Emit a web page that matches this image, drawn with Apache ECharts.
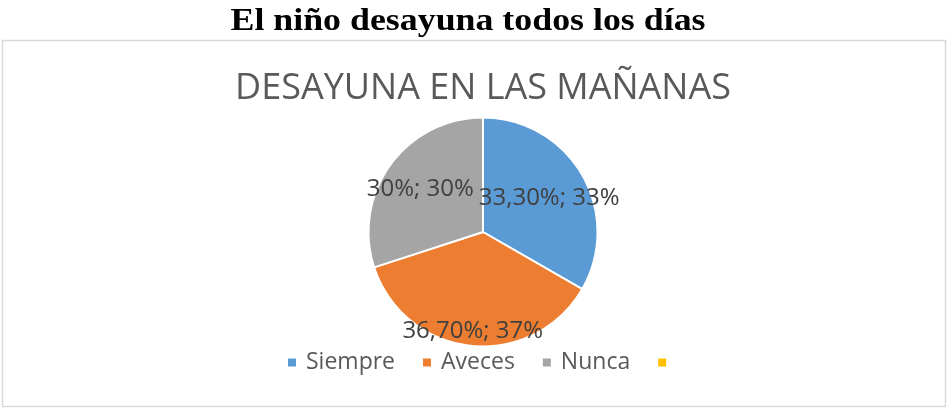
<!DOCTYPE html>
<html>
<head>
<meta charset="utf-8">
<script src="https://cdn.jsdelivr.net/npm/echarts@6/dist/echarts.min.js"></script>
<style>
  html, body { margin: 0; padding: 0; background: #fff; }
  #main { width: 951px; height: 418px; }
</style>
</head>
<body>
<div id="main"></div>
<script>
// datos
var categorias = ["Siempre", "Aveces", "Nunca", " "];
var valores = [33.3, 36.7, 30, 0];
var colores = ["#5B9BD5", "#ED7D31", "#A5A5A5", "#FFC000"];

// desplazamiento de etiquetas (como en Excel)
var desplaz = [[14, -4], [-4, 39], [-14, -7], [0, 0]];

var chart = echarts.init(document.getElementById("main"));

var datos = categorias.map(function (c, i) {
    return { name: c, value: valores[i], itemStyle: { color: colores[i] } };
});

chart.setOption({
    animation: false,
    title: {
        text: "DESAYUNA EN LAS MAÑANAS",
        left: 478,
        textAlign: "center",
        top: 66,
        textStyle: { fontFamily: "Open Sans", fontWeight: "normal", fontSize: 36, color: "#595959" }
    },
    graphic: [{
        type: "rect",
        shape: { x: 2.5, y: 40.5, width: 943, height: 366 },
        style: { fill: "none", stroke: "#d9d9d9", lineWidth: 1.5 },
        z: -1
    }, {
        type: "text",
        x: 468,
        y: 6,
        scaleX: 1.12,
        style: {
            text: "El niño desayuna todos los días",
            x: 0, y: 0,
            align: "center",
            verticalAlign: "top",
            fontFamily: "Liberation Serif",
            fontWeight: "bold",
            fontSize: 32,
            fill: "#000"
        }
    }],
    legend: {
        top: 351,
        left: 286,
        padding: 0,
        data: categorias,
        icon: "rect",
        itemWidth: 10,
        itemHeight: 10,
        itemGap: 26,
        textStyle: { fontFamily: "Open Sans", fontSize: 23, color: "#595959", padding: [0, 0, 0, 4] }
    },
    series: [{
        type: "pie",
        center: [483, 232],
        radius: [0, 114.5],
        startAngle: 90,
        data: datos,
        itemStyle: { borderColor: "#fff", borderWidth: 2 },
        label: {
            show: true,
            position: "inside",
            fontFamily: "Open Sans",
            fontSize: 24,
            color: "#404040",
            formatter: function (p) {
                if (!p.value) return "";
                var v = p.value.toFixed(2).replace(".", ",");
                if (v.slice(-3) === ",00") v = v.slice(0, -3);
                return v + "%; " + Math.round(p.percent) + "%";
            }
        },
        labelLayout: function (p) {
            var d = desplaz[p.dataIndex];
            return { dx: d[0], dy: d[1] };
        },
        emphasis: { disabled: true }
    }]
});
</script>
</body>
</html>
